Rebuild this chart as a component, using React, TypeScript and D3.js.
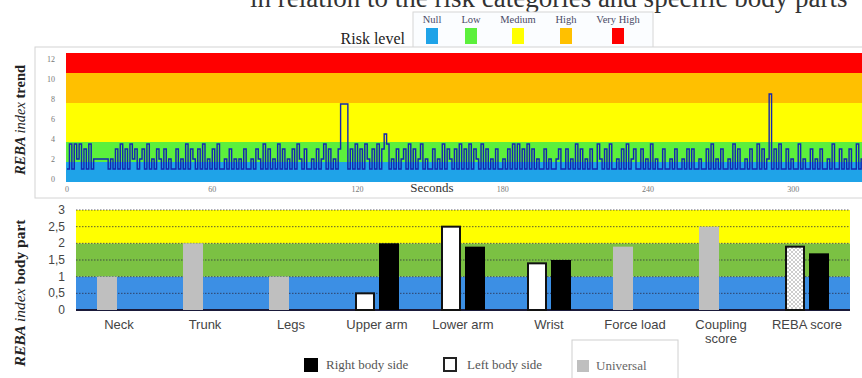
import * as d3 from "d3";

// REBA trend, one value per second
const trend: number[] = [
  1, 3.5, 1, 3.5, 2, 3.5, 1, 3, 1, 3.5, 1, 2, 2, 2, 2, 2, 2, 1, 2, 1, 3, 1, 3.5, 1, 3, 1, 3.5, 2, 3, 1,
  2, 3, 1, 3.5, 1, 2, 1, 3, 2, 1, 3, 1, 2, 1, 1, 3, 1, 2, 1, 3.5, 1, 3, 2, 1, 3, 1, 3.5, 1, 2, 1,
  3, 1, 3.5, 1, 1, 2, 1, 3, 1, 2, 1, 2, 1, 3, 1, 1, 2, 1, 3, 2, 1, 3.5, 1, 3, 1, 2, 1, 3.5, 1, 3,
  1, 2, 1, 3, 1, 3.5, 2, 1, 3, 1, 1, 2, 1, 3, 1, 2, 3.5, 1, 3, 1, 2, 1, 3, 7.5, 7.5, 7.5, 1, 3, 1, 3.5,
  1, 3, 1, 3.5, 2, 1, 3, 1, 3.5, 1, 3, 4.5, 3.5, 1, 2, 1, 3, 1, 2, 3, 1, 3.5, 1, 3, 1, 2, 3.5, 1, 2, 1,
  1, 3, 1, 2, 1, 3.5, 1, 3, 2, 1, 3, 1, 3.5, 1, 3, 1, 3.5, 1, 3, 2, 1, 3.5, 1, 3, 1, 2, 1, 3, 1, 1,
  2, 1, 3, 1, 3.5, 1, 3.5, 1, 3, 1, 3.5, 1, 3, 1, 2, 1, 1, 3, 1, 2, 1, 1, 2, 3, 1, 1, 3, 1, 2, 1,
  3.5, 1, 3, 1, 2, 1, 3, 1, 1, 3.5, 2, 1, 3, 1, 3.5, 1, 1, 2, 1, 3, 1, 3.5, 1, 2, 3, 1, 1, 3, 1, 2,
  1, 3.5, 1, 2, 1, 1, 3, 1, 1, 2, 1, 3, 1, 1, 2, 1, 3, 1, 3, 1, 1, 2, 1, 1, 3, 1, 3.5, 1, 2, 1,
  3, 1, 1, 2, 1, 3.5, 1, 3, 1, 1, 2, 1, 3, 1, 1, 3.5, 1, 3, 1, 2, 8.5, 1, 3, 1, 3.5, 1, 1, 3, 1, 2,
  1, 1, 3.5, 1, 2, 1, 1, 3, 1, 2, 1, 3, 1, 1, 2, 1, 3.5, 1, 1, 3, 1, 2, 1, 3, 1, 1, 3.5, 1, 2, 1,
];

const riskLabels = ["Null", "Low", "Medium", "High", "Very High"];
const riskColors = ["#1fa3e8", "#5cf03c", "#ffff00", "#ffc000", "#ff0000"];
const riskBands: [number, number][] = [
  [-0.3, 1.7],
  [1.7, 3.7],
  [3.7, 7.6],
  [7.6, 10.6],
  [10.6, 12.6],
];
const trendTicksY = [0, 2, 4, 6, 8, 10, 12];
const trendTicksX = [0, 60, 120, 180, 240, 300];

const parts = [
  "Neck",
  "Trunk",
  "Legs",
  "Upper arm",
  "Lower arm",
  "Wrist",
  "Force load",
  "Coupling\nscore",
  "REBA score",
];
const universal = [1, 2, 1, null, null, null, 1.9, 2.5, null];
const leftSide = [null, null, null, 0.5, 2.5, 1.4, null, null, 1.9];
const rightSide = [null, null, null, 2, 1.9, 1.5, null, null, 1.7];
const partTicks = [0, 0.5, 1, 1.5, 2, 2.5, 3];
const partTickLabels = ["0", "0,5", "1", "1,5", "2", "2,5", "3"];
const partBands: [number, number][] = [
  [0, 1],
  [1, 2],
  [2, 3],
];
const partColors = ["#3c8fe4", "#7bc143", "#ffff00"];

const serif = "'Liberation Serif', 'DejaVu Serif', serif";
const sans = "'Liberation Sans', Arial, sans-serif";

export default function App() {
  const W = 862;
  const H = 378;

  // top panel: trend
  const tx = d3.scaleLinear().domain([0, 330]).range([67, 866]);
  const ty = d3.scaleLinear().domain([-0.3, 12.6]).range([182, 53]);
  const line = d3
    .line<number>()
    .x((_, i) => tx(i))
    .y((d) => ty(d))
    .curve(d3.curveStepAfter);

  // bottom panel: body parts
  const bx = d3.scaleBand<string>().domain(parts).range([76, 850]);
  const sub = d3
    .scaleBand<string>()
    .domain(["a", "b"])
    .range([-24, 24])
    .paddingInner(1 / 6)
    .paddingOuter(1 / 12);
  const by = d3.scaleLinear().domain([0, 3]).range([310, 210]);
  const center = (p: string) => (bx(p) ?? 0) + bx.bandwidth() / 2;

  const legendX = [432, 471, 518, 566, 618];

  return (
    <svg
      width={W}
      height={H}
      style={{ position: "fixed", left: 0, top: 0, background: "#fff" }}
    >
      <defs>
        <pattern id="hatch" width="4" height="4" patternUnits="userSpaceOnUse">
          <rect width="4" height="4" fill="#fff" />
          <path d="M0,0 L4,4 M4,0 L0,4" stroke="#b8b8b8" strokeWidth="0.7" />
        </pattern>
        <clipPath id="topclip">
          <rect x={66} y={ty(12.6)} width={W - 66} height={ty(-0.3) - ty(12.6)} />
        </clipPath>
      </defs>

      {/* cut-off caption above */}
      <text x={250} y={7} fontFamily={serif} fontSize={27} fill="#333">
        in relation to the risk categories and specific body parts
      </text>

      {/* risk legend */}
      <text x={405} y={44} textAnchor="end" fontFamily={serif} fontSize={16} fill="#222">
        Risk level
      </text>
      <rect x={413} y={12} width={240} height={36} fill="#fbfdff" stroke="#d6d6d6" />
      {riskLabels.map((l, i) => (
        <g key={l}>
          <text
            x={legendX[i]}
            y={23}
            textAnchor="middle"
            fontFamily={serif}
            fontSize={10.5}
            fill="#4a4a66"
          >
            {l}
          </text>
          <rect x={legendX[i] - 6} y={28} width={12} height={16} fill={riskColors[i]} />
        </g>
      ))}

      {/* top panel */}
      <rect x={35} y={47} width={830} height={151} fill="#fff" stroke="#d4d4d4" />
      {riskBands.map(([a, b], i) => (
        <rect
          key={i}
          x={66}
          y={ty(b)}
          width={W - 66}
          height={ty(a) - ty(b)}
          fill={riskColors[i]}
        />
      ))}
      <path
        d={line(trend) ?? ""}
        clipPath="url(#topclip)"
        fill="none"
        stroke="#1426b0"
        strokeWidth={1.4}
      />
      {trendTicksY.map((t) => (
        <text
          key={t}
          x={55}
          y={ty(t) + 3}
          textAnchor="end"
          fontFamily={serif}
          fontSize={8}
          fill="#777"
        >
          {t}
        </text>
      ))}
      {trendTicksX.map((t) => (
        <text
          key={t}
          x={tx(t)}
          y={192}
          textAnchor="middle"
          fontFamily={serif}
          fontSize={8}
          fill="#777"
        >
          {t}
        </text>
      ))}
      <text x={432} y={192} textAnchor="middle" fontFamily={serif} fontSize={13} fill="#333">
        Seconds
      </text>
      <text
        transform={`translate(25,120) rotate(-90)`}
        textAnchor="middle"
        fontFamily={serif}
        fontSize={14.5}
        fill="#222"
      >
        <tspan fontStyle="italic" fontWeight="bold">REBA </tspan>
        <tspan fontStyle="italic">index </tspan>
        <tspan fontWeight="bold">trend</tspan>
      </text>

      {/* bottom panel */}
      {partBands.map(([a, b], i) => (
        <rect
          key={i}
          x={76}
          y={by(b)}
          width={774}
          height={by(a) - by(b)}
          fill={partColors[i]}
        />
      ))}
      {partTicks.slice(1).map((t) => (
        <line
          key={t}
          x1={76}
          x2={850}
          y1={by(t)}
          y2={by(t)}
          stroke="#2a2a40"
          strokeWidth={1}
          strokeDasharray="1.5,1.5"
          opacity={0.75}
        />
      ))}
      <line x1={76} x2={850} y1={by(0)} y2={by(0)} stroke="#1a1a3a" strokeWidth={2} />
      {partTicks.map((t, i) => (
        <text
          key={t}
          x={65}
          y={by(t) + 4}
          textAnchor="end"
          fontFamily={sans}
          fontSize={12}
          fill="#444"
        >
          {partTickLabels[i]}
        </text>
      ))}
      {parts.map((p, i) => {
        const c = center(p);
        const x0 = c + (sub("a") ?? 0);
        const x1 = c + (sub("b") ?? 0);
        const w = sub.bandwidth();
        const u = universal[i];
        const l = leftSide[i];
        const r = rightSide[i];
        return (
          <g key={p}>
            {u != null && (
              <rect x={x0} y={by(u)} width={w} height={by(0) - by(u)} fill="#bfbfbf" />
            )}
            {l != null && (
              <rect
                x={x0 + 1}
                y={by(l)}
                width={w - 2}
                height={by(0) - by(l)}
                fill={p === "REBA score" ? "url(#hatch)" : "#fff"}
                stroke="#111"
                strokeWidth={2}
              />
            )}
            {r != null && (
              <rect x={x1} y={by(r)} width={w} height={by(0) - by(r)} fill="#000" />
            )}
            <text
              x={c}
              y={329}
              textAnchor="middle"
              fontFamily={sans}
              fontSize={13}
              fill="#444"
            >
              {p.split("\n").map((s, k) => (
                <tspan key={k} x={c} dy={k === 0 ? 0 : 14}>
                  {s}
                </tspan>
              ))}
            </text>
          </g>
        );
      })}
      <text
        transform={`translate(25,293) rotate(-90)`}
        textAnchor="middle"
        fontFamily={serif}
        fontSize={15.5}
        fill="#222"
      >
        <tspan fontStyle="italic" fontWeight="bold">REBA </tspan>
        <tspan fontStyle="italic">index </tspan>
        <tspan fontWeight="bold">body part</tspan>
      </text>

      {/* bottom legend */}
      <rect x={572} y={340} width={106} height={50} fill="#fff" stroke="#d0d0d0" />
      <rect x={304} y={358} width={14} height={14} fill="#000" />
      <text x={326} y={369} fontFamily={serif} fontSize={13} fill="#555">
        Right body side
      </text>
      <rect x={444} y={358} width={12} height={13} fill="#fff" stroke="#222" strokeWidth={2} />
      <text x={467} y={369} fontFamily={serif} fontSize={13} fill="#555">
        Left body side
      </text>
      <rect x={577} y={360} width={12} height={12} fill="#bfbfbf" />
      <text x={596} y={370} fontFamily={serif} fontSize={13} fill="#666">
        Universal
      </text>
    </svg>
  );
}
